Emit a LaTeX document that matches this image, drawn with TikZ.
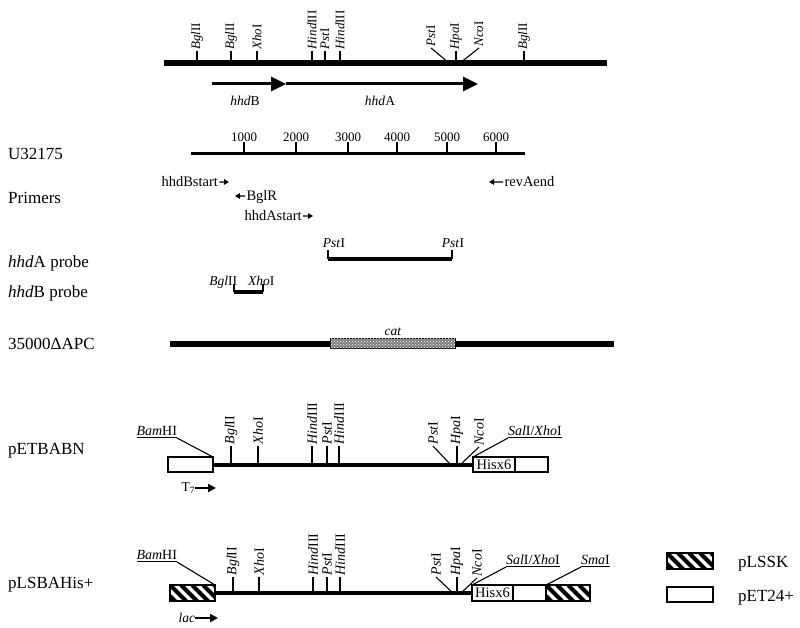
\documentclass[tikz,border=0pt]{standalone}
\usepackage{fontspec}
\setmainfont{Liberation Serif}
\usetikzlibrary{arrows.meta,patterns}
\newcommand{\rsite}[7][site]{%
  \coordinate (#2b) at (#3,#4);
  \node[#1] (#2) at (#5,#6) {#7};
  \draw[tick] (#2b) -- (#2.west);}
\tikzset{
  rowlabel/.style={anchor=base west, inner sep=0pt, font=\fontsize{17}{20}\selectfont},
  site/.style={rotate=90, anchor=west, inner xsep=1.5pt, inner ysep=0pt, outer sep=0pt, font=\fontsize{13}{15}\selectfont},
  psite/.style={site, font=\fontsize{14}{16}\selectfont},
  hlab/.style={inner sep=0pt, outer sep=0pt, font=\fontsize{13.5}{15}\selectfont},
  ulab/.style={inner sep=0pt, outer sep=0pt, font=\fontsize{14}{16}\selectfont},
  numlab/.style={anchor=south, inner sep=0pt, outer sep=0pt, font=\fontsize{13}{15}\selectfont},
  prlab/.style={inner xsep=1.5pt, inner ysep=0pt, outer sep=0pt, text depth=0pt, font=\fontsize{14.5}{16}\selectfont},
  tick/.style={line width=1.1pt},
  dna/.style={line width=4pt},
  vbox/.style={draw, line width=1.1pt, fill=white, rectangle, inner sep=0pt, outer sep=0pt, minimum height=15pt, font=\fontsize{14.5}{16}\selectfont},
  hbox/.style={vbox, path picture={\foreach \k in {-3,...,5}{\draw[line width=4pt] ([xshift=\k*11pt]path picture bounding box.north west) -- ++(26,26);}}},
  catbox/.style={draw, line width=0.8pt, rectangle, inner sep=0pt, outer sep=0pt, minimum width=125pt, minimum height=10pt, fill=black!50, postaction={pattern=crosshatch dots, pattern color=white}},
  gene/.style={line width=3pt, -{Triangle[length=15pt,width=14pt]}},
  primer/.style={line width=1.3pt, -{Triangle[length=5pt,width=5.5pt]}},
  prom/.style={line width=2.2pt, -{Triangle[length=8pt,width=8pt]}},
}
\begin{document}
\begin{tikzpicture}[x=1pt,y=-1pt]
\useasboundingbox (0,0) rectangle (800,628);
\fill[white] (0,0) rectangle (800,628);

% ---------- top restriction map ----------
\coordinate (m1) at (164,63); \coordinate (m2) at (607,63);
\draw[line width=6pt] (m1) -- (m2);
\rsite{a1}{197}{63}{197}{51}{\textit{Bgl}II}
\rsite{a2}{231}{63}{231}{51}{\textit{Bgl}II}
\rsite{a3}{257}{63}{257}{51}{\textit{Xho}I}
\rsite{a4}{312}{63}{312}{51}{\textit{Hind}III}
\rsite{a5}{325}{63}{325}{51}{\textit{Pst}I}
\rsite{a6}{340}{63}{340}{51}{\textit{Hind}III}
\rsite{a7}{449}{63}{431}{48}{\textit{Pst}I}
\rsite{a8}{456}{63}{456}{51}{\textit{Hpa}I}
\rsite{a9}{460}{63}{479}{48}{\textit{Nco}I}
\rsite{a10}{524}{63}{524}{51}{\textit{Bgl}II}
\coordinate (gB1) at (212,84); \coordinate (gB2) at (286,84);
\coordinate (gA1) at (286,84); \coordinate (gA2) at (478,84);
\draw[gene] (gB1) -- (gB2);
\draw[gene] (gA1) -- (gA2);
\node[hlab, anchor=base] (hB) at (245,106) {\textit{hhd}B};
\node[hlab, anchor=base] (hA) at (380,106) {\textit{hhd}A};

% ---------- row labels ----------
\node[rowlabel] (rU) at (8,160) {U32175};
\node[rowlabel] (rP) at (8,204) {Primers};
\node[rowlabel] (rA) at (8,268) {\textit{hhd}A probe};
\node[rowlabel] (rB) at (8,298) {\textit{hhd}B probe};
\node[rowlabel] (rD) at (8,349) {35000ΔAPC};
\node[rowlabel] (rE) at (8,454) {pETBABN};
\node[rowlabel] (rL) at (8,588) {pLSBAHis+};

% ---------- U32175 scale ----------
\coordinate (u1) at (191,154); \coordinate (u2) at (525,154);
\draw[line width=3pt] (u1) -- (u2);
\foreach \x/\t in {244/1000,296/2000,348/3000,397/4000,447/5000,496/6000}{
  \coordinate (nb\t) at (\x,154);
  \node[numlab] (n\t) at (\x,142) {\t};
  \draw[tick] (nb\t) -- (n\t.south);
}

% ---------- primers ----------
\node[prlab, anchor=base west] (p1) at (160,187) {hhdBstart};
\coordinate (p1t) at (229,182); \draw[primer] (p1.east) -- (p1t);
\node[prlab, anchor=base west] (p2) at (245,201) {BglR};
\coordinate (p2t) at (235,196); \draw[primer] (p2.west) -- (p2t);
\node[prlab, anchor=base west] (p3) at (243,221) {hhdAstart};
\coordinate (p3t) at (313,216); \draw[primer] (p3.east) -- (p3t);
\node[prlab, anchor=base west] (p4) at (503,187) {revAend};
\coordinate (p4t) at (489,182); \draw[primer] (p4.west) -- (p4t);

% ---------- probes ----------
\node[hlab, anchor=base] (q1) at (334,248) {\textit{Pst}I};
\node[hlab, anchor=base] (q2) at (453,248) {\textit{Pst}I};
\coordinate (q1a) at (328,250); \coordinate (q1b) at (328,259);
\coordinate (q2a) at (452,250); \coordinate (q2b) at (452,259);
\draw[line width=4pt] (q1b) -- (q2b);
\draw[line width=1.6pt] (q1a) -- (q1b);
\draw[line width=1.6pt] (q2a) -- (q2b);
\node[hlab, anchor=base east] (q3) at (237,285) {\textit{Bgl}II};
\node[hlab, anchor=base west] (q4) at (248,285) {\textit{Xho}I};
\coordinate (q3a) at (234,284); \coordinate (q3b) at (234,292);
\coordinate (q4a) at (263,284); \coordinate (q4b) at (263,292);
\draw[line width=4pt] (q3b) -- (q4b);
\draw[line width=1.6pt] (q3a) -- (q3b);
\draw[line width=1.6pt] (q4a) -- (q4b);

% ---------- 35000 delta APC ----------
\node[catbox] (cat) at (392.5,343.5) {};
\coordinate (d1) at (170,343.5); \coordinate (d2) at (614,343.5);
\draw[line width=6pt] (d1) -- (cat.west);
\draw[line width=6pt] (cat.east) -- (d2);
\node[hlab, anchor=base] (catl) at (393,335) {\textit{cat}};

% ---------- pETBABN ----------
\node[vbox, minimum width=45pt] (lb1) at (190.5,464.5) {};
\node[vbox, minimum width=42pt] (his1) at (494,464.5) {Hisx6};
\node[vbox, minimum width=33pt] (wb1) at (531.5,464.5) {};
\draw[dna] (lb1.east) -- (his1.west);
\rsite[psite]{e1}{231}{464}{231}{446}{\textit{Bgl}II}
\rsite[psite]{e2}{258}{464}{258}{446}{\textit{Xho}I}
\rsite[psite]{e3}{312}{464}{312}{446}{\textit{Hind}III}
\rsite[psite]{e4}{327}{464}{327}{446}{\textit{Pst}I}
\rsite[psite]{e5}{339}{464}{339}{446}{\textit{Hind}III}
\rsite[psite]{e6}{450}{464}{433}{446}{\textit{Pst}I}
\rsite[psite]{e7}{457}{464}{457}{446}{\textit{Hpa}I}
\rsite[psite]{e8}{461}{464}{479}{447}{\textit{Nco}I}
\node[ulab, anchor=south east] (bam1) at (177,438) {\underline{\textit{Bam}HI}};
\draw[tick] (bam1.south east) -- (lb1.north east);
\node[ulab, anchor=south west] (sal1) at (508,438) {\underline{\textit{Sal}I/\textit{Xho}I}};
\draw[tick] (his1.north west) -- (sal1.south west);
\node[hlab, anchor=east] (t7) at (195,488) {T\textsubscript{7}};
\coordinate (t7t) at (216,488); \draw[prom] (t7.east) -- (t7t);

% ---------- pLSBAHis+ ----------
\node[hbox, minimum width=45pt, minimum height=16pt] (lb2) at (192.5,593) {};
\node[vbox, minimum width=41pt, minimum height=16pt] (his2) at (492.5,593) {Hisx6};
\node[vbox, minimum width=33pt, minimum height=16pt] (wb2) at (529.5,593) {};
\node[hbox, minimum width=44pt, minimum height=16pt] (hb2) at (568,593) {};
\draw[dna] (lb2.east) -- (his2.west);
\rsite[psite]{f1}{233}{593}{233}{577}{\textit{Bgl}II}
\rsite[psite]{f2}{259}{593}{259}{577}{\textit{Xho}I}
\rsite[psite]{f3}{313}{593}{313}{577}{\textit{Hind}III}
\rsite[psite]{f4}{327}{593}{327}{577}{\textit{Pst}I}
\rsite[psite]{f5}{340}{593}{340}{577}{\textit{Hind}III}
\rsite[psite]{f6}{453}{593}{436}{577}{\textit{Pst}I}
\rsite[psite]{f7}{457}{593}{457}{577}{\textit{Hpa}I}
\rsite[psite]{f8}{461}{593}{477}{578}{\textit{Nco}I}
\node[ulab, anchor=south east] (bam2) at (177,562) {\underline{\textit{Bam}HI}};
\draw[tick] (bam2.south east) -- (lb2.north east);
\node[ulab, anchor=south west] (sal2) at (506,567) {\underline{\textit{Sal}I/\textit{Xho}I}};
\draw[tick] (his2.north west) -- (sal2.south west);
\node[ulab, anchor=south west] (sma2) at (581,567) {\underline{\textit{Sma}I}};
\draw[tick] (hb2.north west) -- (sma2.south west);
\node[hlab, anchor=east] (lac) at (195,618) {\textit{lac}};
\coordinate (lact) at (218,618); \draw[prom] (lac.east) -- (lact);

% ---------- legend ----------
\node[hbox, minimum width=46pt, minimum height=16pt] (leg1) at (690,561) {};
\node[rowlabel] (leg1t) at (738,567) {pLSSK};
\node[vbox, minimum width=46pt] (leg2) at (690,594.5) {};
\node[rowlabel] (leg2t) at (738,601) {pET24+};
\end{tikzpicture}
\end{document}
